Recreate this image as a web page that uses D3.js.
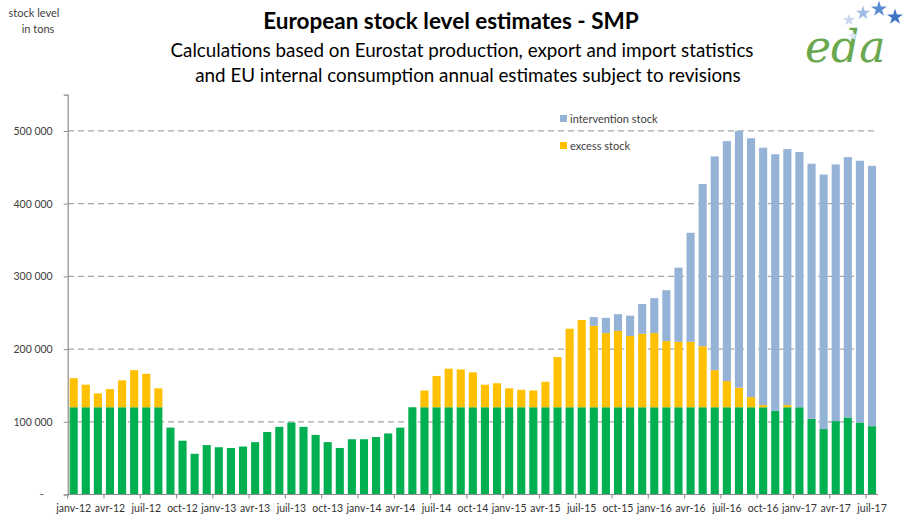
<!DOCTYPE html>
<html>
<head>
<meta charset="utf-8">
<script src="https://cdn.jsdelivr.net/npm/d3@7"></script>
<style>
  body { margin: 0; background: #fff; }
  svg { font-family: Lato, "Liberation Sans", sans-serif; }
</style>
</head>
<body>
<script>
// months, janv-12 .. juil-17
const months = [
  "janv-12","févr-12","mars-12","avr-12","mai-12","juin-12","juil-12","août-12","sept-12","oct-12","nov-12","déc-12",
  "janv-13","févr-13","mars-13","avr-13","mai-13","juin-13","juil-13","août-13","sept-13","oct-13","nov-13","déc-13",
  "janv-14","févr-14","mars-14","avr-14","mai-14","juin-14","juil-14","août-14","sept-14","oct-14","nov-14","déc-14",
  "janv-15","févr-15","mars-15","avr-15","mai-15","juin-15","juil-15","août-15","sept-15","oct-15","nov-15","déc-15",
  "janv-16","févr-16","mars-16","avr-16","mai-16","juin-16","juil-16","août-16","sept-16","oct-16","nov-16","déc-16",
  "janv-17","févr-17","mars-17","avr-17","mai-17","juin-17","juil-17"
];

// stock levels in tons
const baseStock = [
  120000,120000,120000,120000,120000,120000,120000,120000, 92000, 74000, 56000, 68000,
   65000, 64000, 66000, 72000, 86000, 93000, 99000, 93000, 82000, 72000, 64000, 76000,
   76000, 79000, 84000, 92000,120000,120000,120000,120000,120000,120000,120000,120000,
  120000,120000,120000,120000,120000,120000,120000,120000,120000,120000,120000,120000,
  120000,120000,120000,120000,120000,120000,120000,120000,120000,120000,115000,120000,
  120000,104000, 90000,101000,106000, 99000, 94000
];
const excessStock = [
   40000, 31000, 19000, 25000, 37000, 51000, 46000, 26000,     0,     0,     0,     0,
       0,     0,     0,     0,     0,     0,     0,     0,     0,     0,     0,     0,
       0,     0,     0,     0,     0, 23000, 43000, 53000, 52000, 48000, 31000, 33000,
   26000, 24000, 23000, 35000, 69000,108000,120000,112000,102000,105000, 98000,101000,
  102000, 91000, 90000, 90000, 84000, 51000, 36000, 27000, 14000,  3000,     0,  3000,
       0,     0,     0,     0,     0,     0,     0
];
const interventionStock = [
       0,     0,     0,     0,     0,     0,     0,     0,     0,     0,     0,     0,
       0,     0,     0,     0,     0,     0,     0,     0,     0,     0,     0,     0,
       0,     0,     0,     0,     0,     0,     0,     0,     0,     0,     0,     0,
       0,     0,     0,     0,     0,     0,     0, 12000, 21000, 23000, 28000, 41000,
   48000, 70000,102000,150000,223000,294000,330000,353000,356000,354000,353000,352000,
  351000,351000,350000,353000,358000,360000,358000
];
const yTicks = [0, 100000, 200000, 300000, 400000, 500000];
const legendItems = [
  { name: "intervention stock", color: "#95b3d7" },
  { name: "excess stock", color: "#ffc000" }
];

const W = 906, H = 518;
const svg = d3.select("body").append("svg")
  .attr("width", W)
  .attr("height", H);

const x = d3.scaleBand()
  .domain(d3.range(months.length))
  .range([67.7, 878])
  .paddingInner(0.33)
  .paddingOuter(0.16);

const y = d3.scaleLinear()
  .domain([0, 550000])
  .range([494.5, 94.6]);

// gridlines
svg.append("g")
  .selectAll("line")
  .data(yTicks.filter(d => d > 0))
  .join("line")
  .attr("x1", 68).attr("x2", 878)
  .attr("y1", d => y(d)).attr("y2", d => y(d))
  .attr("stroke", "#a6a6a6")
  .attr("stroke-width", 1.2)
  .attr("stroke-dasharray", "6,4");

// stacked bars
const rows = months.map((m, i) => ({ i, base: baseStock[i], excess: excessStock[i], intervention: interventionStock[i] }));
const stack = d3.stack().keys(["base", "excess", "intervention"]);
const colors = { base: "#00b050", excess: "#ffc000", intervention: "#95b3d7" };

svg.append("g")
  .selectAll("g")
  .data(stack(rows))
  .join("g")
  .attr("fill", d => colors[d.key])
  .selectAll("rect")
  .data(d => d.filter(p => p[1] > p[0]))
  .join("rect")
  .attr("x", d => x(d.data.i))
  .attr("width", x.bandwidth())
  .attr("y", d => y(d[1]))
  .attr("height", d => y(d[0]) - y(d[1]));

// y axis
const yAxis = svg.append("g")
  .attr("transform", "translate(67.7,0)")
  .call(d3.axisLeft(y)
    .tickValues(yTicks)
    .tickSize(4)
    .tickFormat(d => d === 0 ? "-" : d3.format(",")(d).replace(/,/g, " ")));
yAxis.select(".domain").attr("stroke", "#8c8c8c").attr("stroke-width", 1.2);
yAxis.selectAll(".tick line").attr("stroke", "#8c8c8c").attr("x2", 0).attr("x1", -4);
yAxis.selectAll(".tick text")
  .attr("x", -15)
  .attr("fill", "#404040")
  .style("font-size", "10.5px")
  .style("font-family", "Lato, sans-serif");
yAxis.selectAll(".tick").filter(d => d === 0).select("text").attr("x", -24);

// x axis
const step = x.step();
const xAxis = svg.append("g").attr("transform", "translate(0,494.5)");
xAxis.append("line")
  .attr("x1", 67.7).attr("x2", 878)
  .attr("stroke", "#8c8c8c").attr("stroke-width", 1.2);
xAxis.selectAll("line.tk")
  .data(d3.range(0, months.length + 1, 3))
  .join("line")
  .attr("class", "tk")
  .attr("x1", d => 67.7 + d * step).attr("x2", d => 67.7 + d * step)
  .attr("y1", 0).attr("y2", 4)
  .attr("stroke", "#8c8c8c");
xAxis.selectAll("text")
  .data(d3.range(0, months.length, 3))
  .join("text")
  .attr("x", d => x(d) + x.bandwidth() / 2)
  .attr("y", 17)
  .attr("text-anchor", "middle")
  .attr("fill", "#333")
  .style("font-size", "10.5px")
  .text(d => months[d]);

// legend
const lg = svg.append("g").attr("transform", "translate(560,115)");
lg.selectAll("rect")
  .data(legendItems)
  .join("rect")
  .attr("x", 0).attr("y", (d, i) => i * 27)
  .attr("width", 7).attr("height", 7)
  .attr("fill", d => d.color);
lg.selectAll("text")
  .data(legendItems)
  .join("text")
  .attr("x", 10).attr("y", (d, i) => i * 27 + 7.5)
  .attr("fill", "#404040")
  .style("font-size", "11px")
  .text(d => d.name);

// titles
svg.append("text")
  .attr("x", 451).attr("y", 29)
  .attr("text-anchor", "middle")
  .attr("fill", "#000")
  .style("font-size", "22.5px")
  .style("font-weight", "bold")
  .text("European stock level estimates - SMP");
svg.append("text")
  .attr("x", 462).attr("y", 57)
  .attr("text-anchor", "middle")
  .attr("fill", "#000")
  .style("font-size", "18.8px")
  .text("Calculations based on Eurostat production, export and import statistics");
svg.append("text")
  .attr("x", 468).attr("y", 82)
  .attr("text-anchor", "middle")
  .attr("fill", "#000")
  .style("font-size", "18.8px")
  .text("and EU internal consumption annual estimates subject to revisions");

svg.append("text")
  .attr("x", 34).attr("y", 17)
  .attr("text-anchor", "middle")
  .attr("fill", "#404040")
  .style("font-size", "11px")
  .text("stock level");
svg.append("text")
  .attr("x", 38).attr("y", 33)
  .attr("text-anchor", "middle")
  .attr("fill", "#404040")
  .style("font-size", "11px")
  .text("in tons");

// eda logo
const logo = svg.append("g").attr("transform", "translate(805,0)");
logo.append("text")
  .attr("x", 0).attr("y", 62)
  .attr("fill", "#6aa84f")
  .style("font-family", "'DejaVu Serif', serif")
  .style("font-style", "italic")
  .style("font-size", "44px")
  .text("eda");
const stars = [[44, 20, "#c9d8ef", 7], [58, 13, "#9fbbe3", 8], [74, 9, "#5b8bd0", 9], [90, 17, "#3f74c4", 9], [48, 36, "#dbe5f3", 6]];
logo.selectAll("path.star")
  .data(stars)
  .join("path")
  .attr("class", "star")
  .attr("transform", d => `translate(${d[0]},${d[1]})`)
  .attr("d", d => d3.symbol(d3.symbolStar, d[3] * d[3]).call())
  .attr("fill", d => d[2]);
</script>
</body>
</html>
